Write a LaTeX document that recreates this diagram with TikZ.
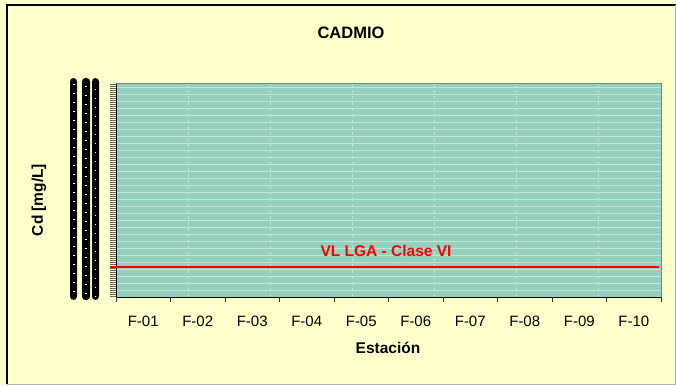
\documentclass[tikz,border=0pt]{standalone}
\usepackage{fontspec}
\setmainfont{Liberation Sans}
\begin{document}
\begin{tikzpicture}[x=1pt,y=-1pt,
  lbl/.style={font=\fontsize{15}{17}\selectfont, inner sep=0pt},
  boldlbl/.style={font=\fontsize{15.5}{17}\selectfont\bfseries, inner sep=0pt},
  garble/.style={fill=black, rounded corners=3.5pt}]
\definecolor{bgy}{HTML}{FFFFCC}
\definecolor{plotg}{HTML}{94D0BC}
\definecolor{gridl}{HTML}{BFE6D8}
\useasboundingbox (0,0) rectangle (676,385);
\fill[bgy] (0,0) rectangle (676,385);
\draw[black, line width=1.2pt] (7,384) -- (7,5) -- (675.5,5);
\draw[gray!60, line width=1pt] (7,384) -- (675.5,384) -- (675.5,5);
% plot area
\coordinate (pTL) at (116,84);
\coordinate (pBR) at (661,297);
\fill[plotg] (pTL) rectangle (pBR);
\foreach \yy in {87,94,...,297} \draw[gridl, line width=0.6pt] (116,\yy) -- (661,\yy);
\foreach \xx in {188,270,352,434,516,598} \draw[gridl, dashed, line width=0.5pt] (\xx,84) -- (\xx,297);
\draw[gray, line width=1pt] (116,84) -- (661,84) -- (661,297);
% y minor ticks
\foreach \yy in {84,86,...,297} \draw[black!60, line width=0.4pt] (110,\yy) -- (116,\yy);
% axes
\draw[black, line width=1pt] (116,84) -- (116,297) -- (661,297);
\foreach \k in {0,...,10} \draw[black!80, line width=0.6pt] (116+54.5*\k,297) -- (116+54.5*\k,302);
% garbled y tick labels
\node[garble, minimum width=7pt, minimum height=222pt, inner sep=0pt] (g1) at (73.5,189) {};
\node[garble, minimum width=8pt, minimum height=222pt, inner sep=0pt] (g2) at (86,189) {};
\node[garble, minimum width=7pt, minimum height=222pt, inner sep=0pt] (g3) at (95.5,189) {};
\foreach \yy in {84,93,...,295} {
  \fill[white] (72.5,\yy) rectangle (74.5,\yy+1);
  \fill[white] (80,\yy+3) rectangle (81.5,\yy+5.5);
  \fill[white] (85,\yy+2) rectangle (87,\yy+3);
  \fill[white] (94.5,\yy+5) rectangle (96,\yy+6);
}
% red limit line
\draw[red, line width=2pt] (110,267) -- (659,267);
\node[boldlbl, text=red] (vl) at (386,251) {VL LGA - Clase VI};
% category labels
\foreach \k [count=\n] in {01,02,03,04,05,06,07,08,09,10}
  \node[lbl] (c\n) at (143.25+54.5*\n-54.5,321) {F-\k};
% titles
\node[font=\fontsize{16.5}{18}\selectfont\bfseries, inner sep=0pt] (title) at (351,33) {CADMIO};
\node[boldlbl] (xlab) at (388,348) {Estación};
\node[boldlbl, rotate=90] (ylab) at (39,200) {Cd [mg/L]};
\end{tikzpicture}
\end{document}
